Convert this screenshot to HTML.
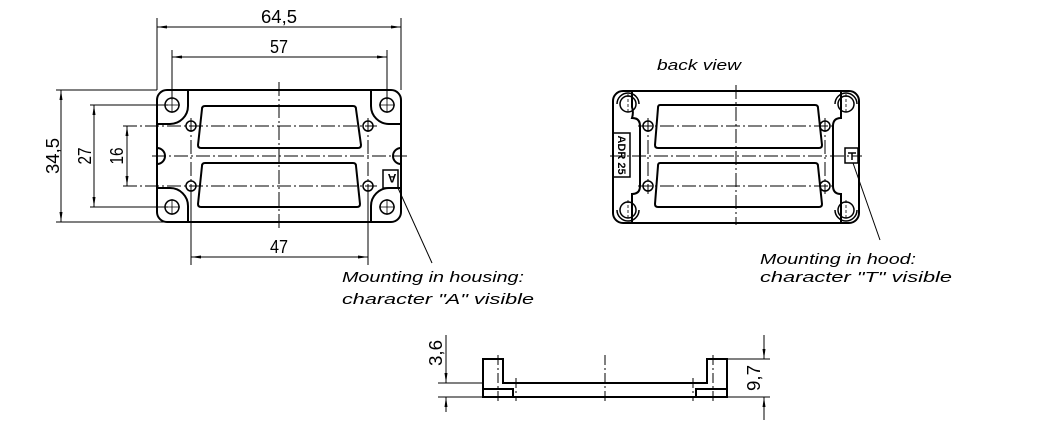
<!DOCTYPE html>
<html><head><style>
html,body{margin:0;padding:0;background:#fff;}
svg{display:block;}
text{font-family:"Liberation Sans",sans-serif;fill:#000;}
.d{font-size:18px;}
.i{font-size:15px;font-style:italic;}
</style></head><body>
<svg width="1046" height="426" viewBox="0 0 1046 426" xmlns="http://www.w3.org/2000/svg">
<defs>
<marker id="a" markerWidth="10" markerHeight="6" refX="10" refY="3" orient="auto-start-reverse" markerUnits="userSpaceOnUse">
<path d="M0,1.5 L10,3 L0,4.5 Z" fill="#000"/></marker>
</defs>
<g fill="none" stroke="#000">
<!-- LEFT PLATE -->
<g stroke-width="2">
<rect x="157" y="90" width="244" height="132" rx="10"/>
<path d="M188,90 V106 A18,18 0 0 1 170,124 H157"/>
<path d="M371,90 V106 A18,18 0 0 0 389,124 H401"/>
<path d="M188,222 V206 A18,18 0 0 0 170,188 H157"/>
<path d="M371,222 V206 A18,18 0 0 1 389,188 H401"/>
<path d="M157,148 A8,8 0 0 1 157,164"/>
<path d="M401,148 A8,8 0 0 0 401,164"/>
<path d="M205,106 H353 Q356,106 356,109 L361,145 Q361,148 358,148 H201 Q198,148 198,145 L202,109 Q202,106 205,106Z"/>
<path d="M205,163 H353 Q356,163 356,166 L360,204 Q360,207 357,207 H201 Q198,207 198,204 L202,166 Q202,163 205,163Z"/>
</g>
<g stroke-width="1.5">
<circle cx="172" cy="105" r="7"/><circle cx="387" cy="105" r="7"/>
<circle cx="172" cy="207" r="7"/><circle cx="387" cy="207" r="7"/>
<circle cx="191" cy="126" r="5"/><circle cx="368" cy="126" r="5"/>
<circle cx="191" cy="186" r="5"/><circle cx="368" cy="186" r="5"/>
<rect x="383" y="170" width="15" height="18"/>
</g>
<g stroke-width="1" stroke-dasharray="14,3,2,3">
<line x1="123" y1="126" x2="377" y2="126"/>
<line x1="123" y1="186" x2="377" y2="186"/>
<line x1="152" y1="156" x2="407" y2="156"/>
<line x1="279" y1="82" x2="279" y2="230"/>
<line x1="191" y1="118" x2="191" y2="194"/>
<line x1="368" y1="118" x2="368" y2="194"/>
</g>
<g stroke-width="0.8">
<path d="M164,105 H180 M172,97 V113 M379,105 H395 M387,97 V113 M164,207 H180 M172,199 V215 M379,207 H395 M387,199 V215"/>
</g>
<g stroke-width="1">
<line x1="157" y1="18" x2="157" y2="90"/><line x1="401" y1="18" x2="401" y2="90"/>
<line x1="157" y1="27" x2="401" y2="27" marker-start="url(#a)" marker-end="url(#a)"/>
<line x1="172" y1="50" x2="172" y2="100"/><line x1="387" y1="50" x2="387" y2="100"/>
<line x1="172" y1="57" x2="387" y2="57" marker-start="url(#a)" marker-end="url(#a)"/>
<line x1="56" y1="90" x2="157" y2="90"/><line x1="56" y1="222" x2="190" y2="222"/>
<line x1="61" y1="90" x2="61" y2="222" marker-start="url(#a)" marker-end="url(#a)"/>
<line x1="90" y1="105" x2="168" y2="105"/><line x1="90" y1="207" x2="168" y2="207"/>
<line x1="94" y1="105" x2="94" y2="207" marker-start="url(#a)" marker-end="url(#a)"/>
<line x1="127" y1="126" x2="127" y2="186" marker-start="url(#a)" marker-end="url(#a)"/>
<line x1="191" y1="190" x2="191" y2="265"/><line x1="368" y1="190" x2="368" y2="265"/>
<line x1="191" y1="257" x2="368" y2="257" marker-start="url(#a)" marker-end="url(#a)"/>
<line x1="398" y1="188" x2="432" y2="263"/>
</g>
<!-- BACK VIEW -->
<g stroke-width="2">
<rect x="613" y="91" width="246" height="132" rx="10"/>
<path d="M632,91 V107 A18,18 0 0 1 632,118 Q640,118 640,126 V186 Q640,194 632,194 V223"/>
<path d="M841,91 V118 Q833,118 833,126 V186 Q833,194 841,194 V223"/>
<path d="M660,105 H815 Q818,105 818,108 L822,145 Q822,148 819,148 H658 Q655,148 655,145 L658,108 Q658,105 660,105Z"/>
<path d="M660,163 H815 Q818,163 818,166 L822,204 Q822,207 819,207 H658 Q655,207 655,204 L658,166 Q658,163 660,163Z"/>
</g>
<g stroke-width="1.5">
<circle cx="628" cy="104" r="8"/><circle cx="846" cy="104" r="8"/>
<circle cx="628" cy="210" r="8"/><circle cx="846" cy="210" r="8"/>
<path d="M617,104 A11,11 0 0 1 639,104"/><path d="M835,104 A11,11 0 0 1 857,104"/>
<path d="M617,210 A11,11 0 0 0 639,210"/><path d="M835,210 A11,11 0 0 0 857,210"/>
<circle cx="648" cy="126" r="5"/><circle cx="825" cy="126" r="5"/>
<circle cx="648" cy="186" r="5"/><circle cx="825" cy="186" r="5"/>
<rect x="613" y="133" width="17" height="44"/>
<rect x="845" y="148" width="13" height="15"/>
<path d="M848,153 H856 M852,153 V160"/>
</g>
<g stroke-width="0.8" stroke-dasharray="3,2">
<path d="M628,94 V114 M846,94 V114 M628,200 V220 M846,200 V220"/>
</g>
<g stroke-width="1" stroke-dasharray="14,3,2,3">
<line x1="638" y1="126" x2="835" y2="126"/>
<line x1="638" y1="186" x2="835" y2="186"/>
<line x1="610" y1="156" x2="862" y2="156"/>
<line x1="736" y1="85" x2="736" y2="225"/>
<line x1="648" y1="118" x2="648" y2="194"/>
<line x1="825" y1="118" x2="825" y2="194"/>
</g>
<line x1="853" y1="163" x2="880" y2="240" stroke-width="1"/>
<!-- SIDE VIEW -->
<g stroke-width="2">
<path d="M483,359 H503 V383 H707 V359 H727 V397 H483 Z"/>
<path d="M483,389 H513 V397 M727,389 H696 V397"/>
</g>
<g stroke-width="1">
<line x1="438" y1="383" x2="483" y2="383"/>
<line x1="438" y1="397" x2="770" y2="397"/>
<line x1="727" y1="359" x2="770" y2="359"/>
<line x1="446" y1="335" x2="446" y2="383" marker-end="url(#a)"/>
<line x1="446" y1="412" x2="446" y2="397" marker-end="url(#a)"/>
<line x1="764" y1="335" x2="764" y2="359" marker-end="url(#a)"/>
<line x1="764" y1="420" x2="764" y2="397" marker-end="url(#a)"/>
</g>
<g stroke-width="1" stroke-dasharray="10,3,2,3">
<line x1="605" y1="355" x2="605" y2="403"/>
<line x1="498" y1="355" x2="498" y2="403"/>
<line x1="713" y1="355" x2="713" y2="403"/>
<line x1="516" y1="378" x2="516" y2="401"/>
<line x1="693" y1="378" x2="693" y2="401"/>
</g>
</g>
<!-- TEXT -->
<text class="d" x="279" y="23" text-anchor="middle" textLength="36" lengthAdjust="spacingAndGlyphs">64,5</text>
<text class="d" x="279" y="53" text-anchor="middle" textLength="18" lengthAdjust="spacingAndGlyphs">57</text>
<text class="d" x="279" y="253" text-anchor="middle" textLength="18" lengthAdjust="spacingAndGlyphs">47</text>
<text class="d" transform="translate(59,156) rotate(-90)" text-anchor="middle" textLength="36" lengthAdjust="spacingAndGlyphs">34,5</text>
<text class="d" transform="translate(91,156) rotate(-90)" text-anchor="middle" textLength="17" lengthAdjust="spacingAndGlyphs">27</text>
<text class="d" transform="translate(123,156) rotate(-90)" text-anchor="middle" textLength="17" lengthAdjust="spacingAndGlyphs">16</text>
<text class="d" transform="translate(442,353) rotate(-90)" text-anchor="middle" textLength="26" lengthAdjust="spacingAndGlyphs">3,6</text>
<text class="d" transform="translate(760,378) rotate(-90)" text-anchor="middle" textLength="26" lengthAdjust="spacingAndGlyphs">9,7</text>
<text x="389" y="184" style="font-size:12px;font-weight:bold" text-anchor="middle" transform="rotate(180 390.5 179)">A</text>
<text transform="translate(618,155) rotate(90)" style="font-size:11px;font-weight:bold" text-anchor="middle">ADR 25</text>
<text class="i" x="657" y="70" textLength="84" lengthAdjust="spacingAndGlyphs">back view</text>
<text class="i" x="342" y="282" textLength="182" lengthAdjust="spacingAndGlyphs">Mounting in housing:</text>
<text class="i" x="342" y="304" textLength="192" lengthAdjust="spacingAndGlyphs">character "A" visible</text>
<text class="i" x="760" y="264" textLength="156" lengthAdjust="spacingAndGlyphs">Mounting in hood:</text>
<text class="i" x="760" y="282" textLength="192" lengthAdjust="spacingAndGlyphs">character "T" visible</text>
</svg>
</body></html>
